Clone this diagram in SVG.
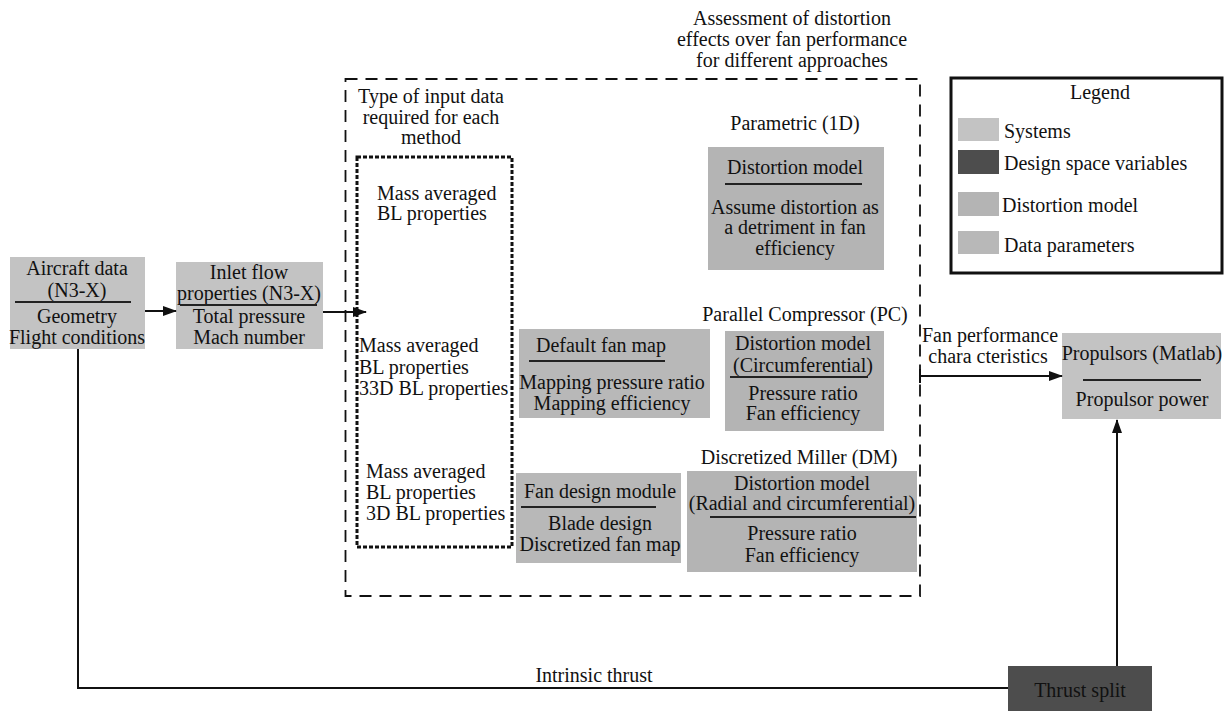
<svg xmlns="http://www.w3.org/2000/svg" width="1227" height="711" viewBox="0 0 1227 711">
<defs>
<style>
text{font-family:"Liberation Serif","Times New Roman",serif;font-size:20px;fill:#111;}
.c{text-anchor:middle;}
.sys{fill:#c3c3c3;}
.dist{fill:#b4b4b4;}
.data{fill:#b8b8b8;}
.dsv{fill:#4d4d4d;}
.sep{stroke:#222;stroke-width:2;}
.ln{stroke:#111;stroke-width:2;fill:none;}
</style>
<marker id="arr" markerWidth="14" markerHeight="10" refX="13" refY="5" orient="auto" markerUnits="userSpaceOnUse">
<path d="M0,0 L14,5 L0,10 Z" fill="#111"/>
</marker>
</defs>
<rect width="1227" height="711" fill="#fff"/>

<g id="title">
<text class="c" x="792" y="25">Assessment of distortion</text>
<text class="c" x="792" y="46">effects over fan performance</text>
<text class="c" x="792" y="67">for different approaches</text>
</g>

<g id="assessment-frame">
<rect x="345.5" y="79" width="574.5" height="517" fill="none" stroke="#111" stroke-width="1.8" stroke-dasharray="12,8"/>
</g>

<g id="input-data">
<text class="c" x="431" y="103">Type of input data</text>
<text class="c" x="431" y="124">required for each</text>
<text class="c" x="431" y="144">method</text>
<rect x="357" y="157" width="155" height="390" fill="none" stroke="#111" stroke-width="3" stroke-dasharray="4,2"/>
<text x="377" y="200">Mass averaged</text>
<text x="377" y="220">BL properties</text>
<text x="359" y="352">Mass averaged</text>
<text x="359" y="374">BL properties</text>
<text x="359" y="395">33D BL properties</text>
<text x="366" y="478">Mass averaged</text>
<text x="366" y="499">BL properties</text>
<text x="366" y="520">3D BL properties</text>
</g>

<g id="aircraft-data">
<rect class="sys" x="10" y="257" width="135" height="92"/>
<text class="c" x="77" y="275">Aircraft data</text>
<text class="c" x="77" y="297">(N3-X)</text>
<line class="sep" x1="15" y1="302" x2="131" y2="302"/>
<text class="c" x="77" y="323">Geometry</text>
<text class="c" x="77" y="344">Flight conditions</text>
</g>

<g id="inlet-flow">
<rect class="sys" x="176" y="262" width="147" height="87"/>
<text class="c" x="249" y="279">Inlet flow</text>
<text class="c" x="249" y="300">properties (N3-X)</text>
<line class="sep" x1="180" y1="305" x2="317" y2="305"/>
<text class="c" x="249" y="323">Total pressure</text>
<text class="c" x="249" y="344">Mach number</text>
</g>

<g id="parametric">
<text class="c" x="795" y="130">Parametric (1D)</text>
<rect class="dist" x="708" y="147" width="176" height="123"/>
<text class="c" x="795" y="174">Distortion model</text>
<line class="sep" x1="725" y1="184" x2="862" y2="184"/>
<text class="c" x="795" y="214">Assume distortion as</text>
<text class="c" x="795" y="234">a detriment in fan</text>
<text class="c" x="795" y="255">efficiency</text>
</g>

<g id="default-fan-map">
<rect class="data" x="519" y="329" width="191" height="89"/>
<text class="c" x="601" y="352">Default fan map</text>
<line class="sep" x1="529" y1="361" x2="665" y2="361"/>
<text class="c" x="612" y="389">Mapping pressure ratio</text>
<text class="c" x="612" y="410">Mapping efficiency</text>
</g>

<g id="parallel-compressor">
<text class="c" x="805" y="321">Parallel Compressor (PC)</text>
<rect class="dist" x="725" y="331" width="159" height="100"/>
<text class="c" x="803" y="350">Distortion model</text>
<text class="c" x="803" y="372">(Circumferential)</text>
<line class="sep" x1="730" y1="377" x2="868" y2="377"/>
<text class="c" x="803" y="400">Pressure ratio</text>
<text class="c" x="803" y="420">Fan efficiency</text>
</g>

<g id="fan-design-module">
<rect class="data" x="516" y="473" width="165" height="90"/>
<text class="c" x="600" y="498">Fan design module</text>
<line class="sep" x1="521" y1="507" x2="656" y2="507"/>
<text class="c" x="600" y="530">Blade design</text>
<text class="c" x="600" y="551">Discretized fan map</text>
</g>

<g id="discretized-miller">
<text class="c" x="799" y="464">Discretized Miller (DM)</text>
<rect class="dist" x="687" y="471" width="230" height="101"/>
<text class="c" x="802" y="490">Distortion model</text>
<text class="c" x="802" y="510">(Radial and circumferential)</text>
<line class="sep" x1="710" y1="517" x2="916" y2="517"/>
<text class="c" x="802" y="540">Pressure ratio</text>
<text class="c" x="802" y="562">Fan efficiency</text>
</g>

<g id="propulsors">
<rect class="sys" x="1062" y="333" width="159" height="86"/>
<text class="c" x="1142" y="360">Propulsors (Matlab)</text>
<line class="sep" x1="1083" y1="380" x2="1201" y2="380"/>
<text class="c" x="1142" y="406">Propulsor power</text>
</g>

<g id="thrust-split">
<rect class="dsv" x="1008" y="666" width="144" height="50"/>
<text class="c" x="1080" y="697">Thrust split</text>
</g>

<g id="legend">
<rect x="951" y="78" width="271" height="195" fill="#fff" stroke="#111" stroke-width="3"/>
<text class="c" x="1100" y="99">Legend</text>
<rect class="sys" x="958" y="118" width="41" height="23"/>
<text x="1004" y="138">Systems</text>
<rect class="dsv" x="958" y="150" width="41" height="24"/>
<text x="1004" y="170">Design space variables</text>
<rect class="dist" x="958" y="192" width="41" height="24"/>
<text x="1002" y="212">Distortion model</text>
<rect class="data" x="958" y="231" width="41" height="23"/>
<text x="1004" y="252">Data parameters</text>
</g>

<g id="connectors">
<line class="ln" x1="145" y1="311" x2="176" y2="311" marker-end="url(#arr)"/>
<line class="ln" x1="323" y1="312" x2="366" y2="312" marker-end="url(#arr)"/>
<line class="ln" x1="920" y1="376" x2="1062" y2="376" marker-end="url(#arr)"/>
<line class="ln" x1="920" y1="369" x2="920" y2="383"/>
<line class="ln" x1="1117" y1="666" x2="1117" y2="420" marker-end="url(#arr)"/>
<polyline class="ln" points="78,349 78,688 1008,688"/>
<text class="c" x="990" y="342">Fan performance</text>
<text class="c" x="988" y="363">chara cteristics</text>
<text class="c" x="594" y="682">Intrinsic thrust</text>
</g>
</svg>
